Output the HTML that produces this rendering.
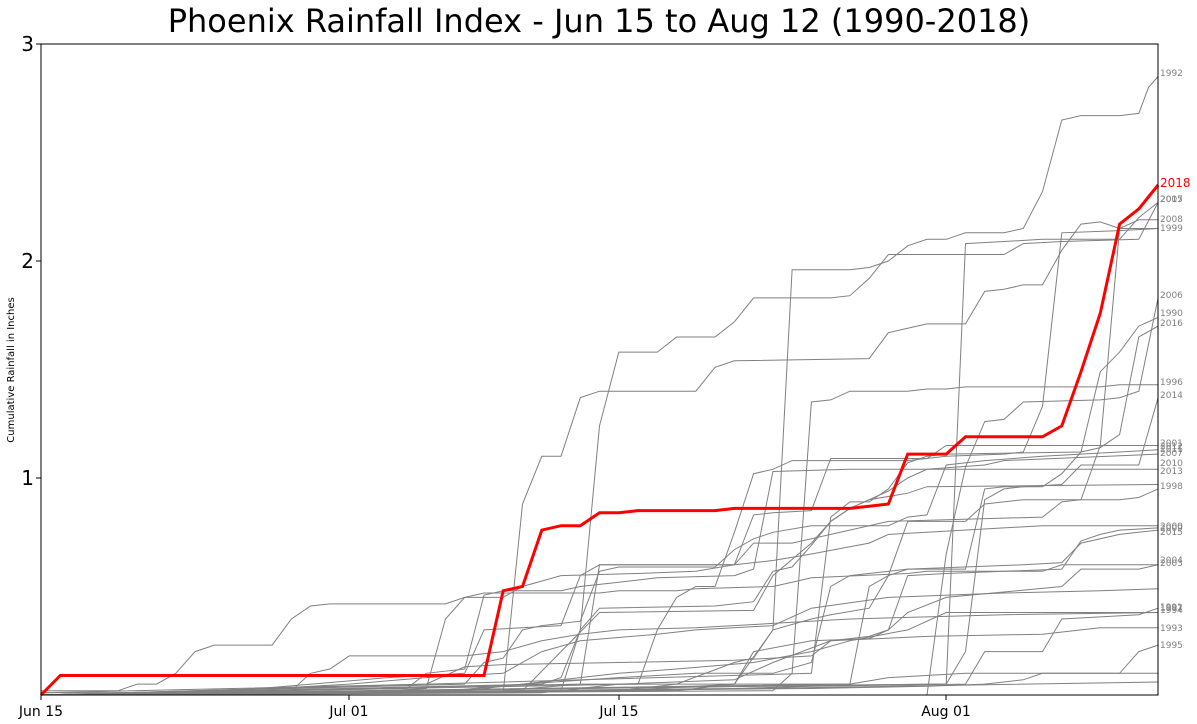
<!DOCTYPE html>
<html><head><meta charset="utf-8"><style>
body{margin:0;background:#fff;}
svg{display:block;font-family:"DejaVu Sans","Liberation Sans",sans-serif;}
</style></head><body>
<svg id="s" width="1197" height="724" xmlns="http://www.w3.org/2000/svg">
<rect width="1197" height="724" fill="#fff"/>
<text x="599" y="32" text-anchor="middle" font-size="32">Phoenix Rainfall Index - Jun 15 to Aug 12 (1990-2018)</text>
<g id="lines" fill="none" stroke="#808080" stroke-width="1"></g>
<rect x="41" y="44" width="1117" height="651" fill="none" stroke="#000" stroke-width="1"/>
<g stroke="#000"><line x1="36" y1="478" x2="41" y2="478"/><line x1="36" y1="261" x2="41" y2="261"/><line x1="36" y1="44" x2="41" y2="44"/>
<line x1="41" y1="695" x2="41" y2="700"/><line x1="349" y1="695" x2="349" y2="700"/><line x1="619" y1="695" x2="619" y2="700"/><line x1="946" y1="695" x2="946" y2="700"/></g>
<g font-size="20" text-anchor="end"><text x="34" y="485">1</text><text x="34" y="268">2</text><text x="34" y="51">3</text></g>
<g font-size="14" text-anchor="middle"><text x="41" y="716">Jun 15</text><text x="349" y="716">Jul 01</text><text x="619" y="716">Jul 15</text><text x="946" y="716">Aug 01</text></g>
<text transform="translate(14,370) rotate(-90)" font-size="10" text-anchor="middle">Cumulative Rainfall in Inches</text>
<g font-size="9" fill="#808080">
<text x="1160" y="76">1992</text>
<text x="1160" y="202">2005</text><text x="1160" y="202">2017</text>
<text x="1160" y="222">2008</text><text x="1160" y="231">1999</text>
<text x="1160" y="298">2006</text><text x="1160" y="316">1990</text><text x="1160" y="326">2016</text>
<text x="1160" y="385">1996</text><text x="1160" y="398">2014</text>
<text x="1160" y="446">2001</text><text x="1160" y="449">2012</text><text x="1160" y="452">2011</text><text x="1160" y="456">2007</text>
<text x="1160" y="466">2010</text><text x="1160" y="474">2013</text><text x="1160" y="489">1998</text>
<text x="1160" y="529">2000</text><text x="1160" y="531">2009</text><text x="1160" y="535">2015</text>
<text x="1160" y="563">2004</text><text x="1160" y="566">2003</text>
<text x="1160" y="610">1991</text><text x="1160" y="611">1997</text><text x="1160" y="613">1994</text>
<text x="1160" y="631">1993</text><text x="1160" y="648">1995</text>
</g>
<text x="1160" y="187" font-size="12" fill="#ff0000">2018</text>
</svg>
<script>
var S=[
[[0,0],[30,0.02],[36,0.05],[38,0.3],[39,1.96],[42,1.96],[43,1.97],[44,2.0],[45,2.07],[46,2.1],[47,2.1],[48,2.13],[50,2.13],[51,2.15],[52,2.32],[53,2.65],[54,2.67],[56,2.67],[57,2.68],[57.5,2.8],[58,2.85]],
[[0,0],[27,0.02],[28,0.3],[29,1.24],[30,1.58],[32,1.58],[33,1.65],[35,1.65],[36,1.72],[37,1.83],[41,1.83],[42,1.84],[43,1.92],[44,2.03],[50,2.03],[51,2.08],[53,2.09],[57,2.1],[58,2.27]],
[[0,0],[24,0.01],[25,0.88],[26,1.1],[27,1.1],[28,1.37],[29,1.4],[34,1.4],[35,1.51],[36,1.54],[43,1.55],[44,1.67],[45,1.69],[46,1.71],[48,1.71],[49,1.86],[50,1.87],[51,1.89],[52,1.89],[53,2.05],[54,2.17],[55,2.18],[56,2.15],[58,2.15]],
[[0,0],[38,0.02],[39,0.1],[40,1.35],[41,1.36],[42,1.4],[45,1.4],[46,1.41],[47,1.41],[48,1.42],[55,1.42],[56,1.43],[58,1.43]],
[[0,0],[47,0.05],[48,2.08],[50,2.09],[52,2.1],[56,2.1],[57,2.2],[58,2.27]],
[[0,0],[46,0],[47,0.65],[48,1.05],[49,1.26],[50,1.27],[51,1.35],[55,1.36],[56,1.37],[57,1.4],[58,1.83]],
[[0,0],[40,0.1],[41,0.82],[42,0.89],[43,0.89],[44,0.95],[45,1.07],[46,1.1],[47,1.11],[54,1.12],[55,1.49],[56,1.58],[57,1.7],[58,1.74]],
[[0,0.02],[4,0.02],[5,0.05],[6,0.05],[7,0.1],[8,0.2],[9,0.23],[12,0.23],[13,0.35],[14,0.41],[15,0.42],[21,0.42],[22,0.45],[23,0.47],[29,0.47],[30,0.48],[33,0.48],[34,0.49],[38,0.5],[39,0.52],[40,0.54],[45,0.56],[46,0.57],[52,0.57],[53,0.6],[58,0.6]],
[[0,0],[42,0.05],[43,0.5],[44,0.55],[45,0.58],[48,0.58],[49,0.95],[50,0.96],[52,0.96],[53,1.02],[54,1.12],[55,1.14],[56,1.2],[57,1.65],[58,1.7]],
[[0,0],[46,0.05],[47,0.05],[48,0.2],[49,0.9],[50,0.95],[51,0.96],[53,0.97],[54,1.06],[57,1.06],[58,1.37]],
[[0,0],[28,0.05],[29,0.6],[30,0.6],[36,0.6],[37,0.83],[38,0.84],[40,0.85],[41,1.09],[46,1.09],[47,1.15],[58,1.15]],
[[0,0],[22,0.05],[23,0.15],[24,0.17],[25,0.3],[26,0.32],[28,0.34],[29,0.57],[30,0.59],[35,0.59],[36,0.67],[37,0.72],[38,0.75],[40,0.78],[44,0.78],[45,0.82],[46,0.83],[47,1.06],[49,1.08],[52,1.1],[58,1.13]],
[[0,0],[26,0.05],[27,0.08],[28,0.3],[29,0.4],[35,0.41],[37,0.43],[38,0.57],[39,0.59],[40,0.69],[41,0.8],[42,0.86],[43,0.9],[44,0.94],[45,1.0],[46,1.04],[49,1.06],[50,1.08],[58,1.11]],
[[0,0],[19,0.03],[20,0.1],[22,0.12],[23,0.46],[24,0.48],[27,0.48],[28,0.5],[30,0.52],[32,0.54],[36,0.55],[37,0.58],[38,1.03],[42,1.04],[58,1.04]],
[[0,0],[25,0.02],[27,0.2],[29,0.38],[37,0.39],[38,0.55],[40,0.7],[41,0.8],[42,0.86],[43,0.9],[45,0.93],[46,0.96],[58,0.97]],
[[0,0],[30,0.02],[33,0.05],[36,0.15],[37,0.17],[38,0.3],[40,0.35],[41,0.37],[43,0.4],[44,0.55],[45,0.8],[48,0.8],[49,0.88],[51,0.9],[56,0.9],[57,0.91],[58,0.95]],
[[0,0],[33,0.02],[36,0.05],[37,0.2],[40,0.25],[43,0.26],[44,0.3],[45,0.55],[47,0.56],[53,0.58],[54,0.71],[55,0.74],[56,0.76],[58,0.77]],
[[0,0],[22,0.02],[25,0.05],[30,0.08],[34,0.1],[38,0.1],[40,0.15],[41,0.5],[42,0.55],[45,0.58],[51,0.6],[53,0.61],[54,0.7],[56,0.74],[58,0.76]],
[[0,0.01],[20,0.05],[22,0.13],[24,0.14],[30,0.15],[36,0.16],[40,0.18],[41,0.25],[43,0.27],[44,0.3],[45,0.38],[47,0.45],[53,0.5],[54,0.58],[57,0.58],[58,0.6]],
[[0,0],[36,0.03],[40,0.04],[48,0.05],[49,0.2],[52,0.2],[53,0.35],[55,0.36],[57,0.37],[58,0.4]],
[[0,0],[20,0.01],[25,0.05],[30,0.1],[33,0.12],[37,0.15],[40,0.2],[42,0.25],[45,0.3],[47,0.38],[58,0.38]],
[[0,0],[26,0.01],[30,0.05],[36,0.07],[38,0.15],[41,0.25],[46,0.27],[52,0.28],[54,0.3],[55,0.31],[58,0.31]],
[[0,0],[40,0.03],[46,0.04],[49,0.05],[50,0.06],[51,0.07],[52,0.1],[56,0.1],[57,0.2],[58,0.23]],
[[0,0],[24,0.02],[28,0.05],[42,0.05],[44,0.08],[48,0.1],[58,0.1]],
[[0,0.01],[30,0.02],[58,0.06]],
[[0,0],[31,0.05],[32,0.3],[33,0.45],[34,0.5],[35,0.5],[36,0.75],[37,1.02],[38,1.04],[39,1.08],[45,1.08],[47,1.1],[50,1.11],[51,1.12],[52,1.33],[53,2.13],[56,2.14],[58,2.15]],
[[0,0],[10,0.02],[18,0.08],[22,0.1],[23,0.3],[27,0.32],[28,0.55],[29,0.6],[36,0.6],[37,0.7],[39,0.7],[44,0.8],[52,0.82],[53,0.89],[54,0.9],[55,1.15],[56,2.15],[57,2.19],[58,2.19]],
[[0,0],[12,0.03],[16,0.05],[20,0.08],[24,0.1],[26,0.2],[28,0.25],[32,0.28],[34,0.3],[38,0.32],[40,0.4],[44,0.45],[50,0.47],[55,0.48],[58,0.49]],
[[0,0],[16,0.01],[20,0.03],[21,0.35],[22,0.45],[24,0.45],[25,0.5],[27,0.55],[31,0.56],[34,0.57],[36,0.6],[38,0.62],[40,0.65],[43,0.7],[44,0.74],[46,0.75],[52,0.78],[58,0.78]],
[[0,0],[13,0.02],[14,0.1],[15,0.12],[16,0.18],[22,0.18],[24,0.2],[26,0.25],[28,0.28],[30,0.3],[34,0.31],[38,0.33],[42,0.35],[46,0.36],[50,0.37],[58,0.38]]
];
var red=[[0,0],[1,0.09],[23,0.09],[24,0.48],[25,0.5],[26,0.76],[27,0.78],[28,0.78],[29,0.84],[30,0.84],[31,0.85],[35,0.85],[36,0.86],[42,0.86],[43,0.87],[44,0.88],[45,1.11],[47,1.11],[48,1.19],[52,1.19],[53,1.24],[54,1.49],[55,1.76],[56,2.17],[57,2.24],[58,2.35]];
function P(a){return a.map(function(p){return (41+p[0]*19.26).toFixed(1)+","+(695-p[1]*217).toFixed(1)}).join(" ")}
var g=document.getElementById("lines"),ns="http://www.w3.org/2000/svg";
S.forEach(function(a){var e=document.createElementNS(ns,"polyline");e.setAttribute("points",P(a));g.appendChild(e);});
var r=document.createElementNS(ns,"polyline");r.setAttribute("points",P(red));r.setAttribute("stroke","#ff0000");r.setAttribute("stroke-width","3");g.appendChild(r);
</script>
</body></html>
